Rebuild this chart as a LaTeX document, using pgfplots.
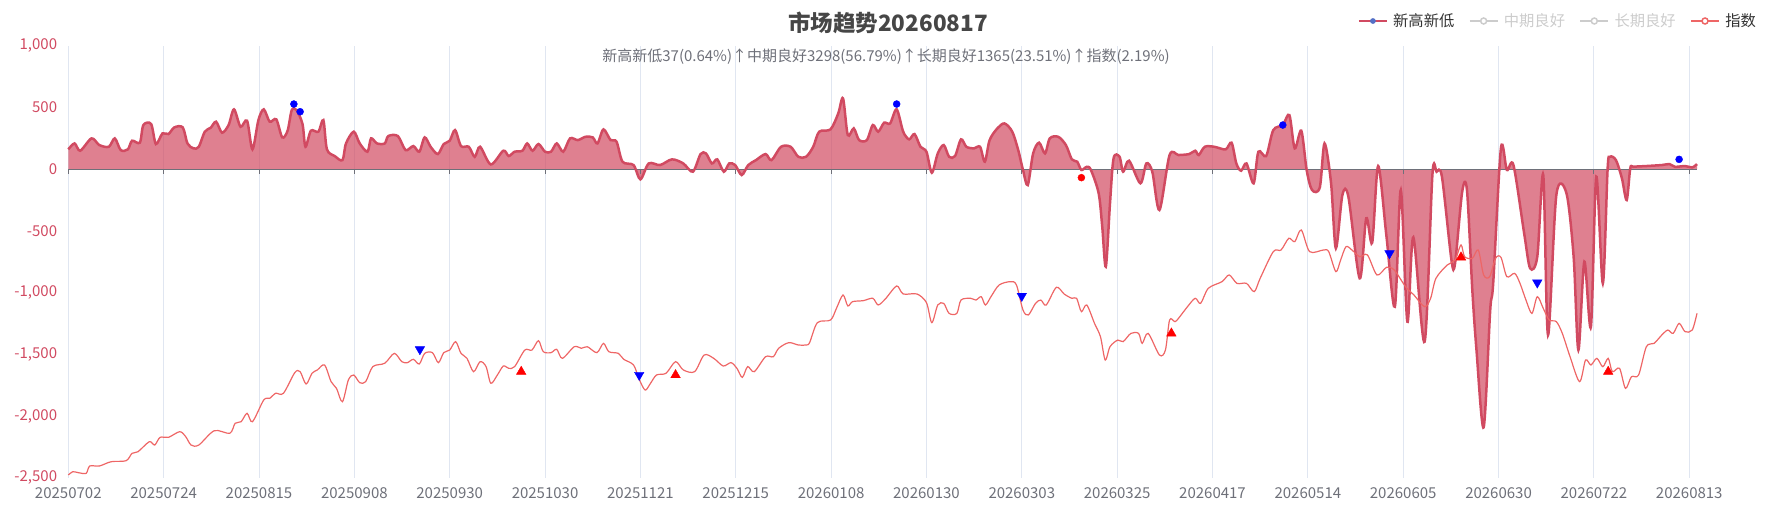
\documentclass[border=0pt]{standalone}
\usepackage{fontspec}
\setmainfont{Noto Sans CJK SC}
\usepackage{pgfplots}
\usepackage{pgfplotstable}
\pgfplotsset{compat=1.18}

\definecolor{lineRed}{RGB}{209,74,97}
\definecolor{idxRed}{RGB}{238,102,102}
\definecolor{gridc}{RGB}{224,230,241}
\definecolor{axisgray}{RGB}{110,112,121}
\definecolor{titlegray}{RGB}{70,70,70}
\definecolor{legendgray}{RGB}{204,204,204}
\definecolor{legendtext}{RGB}{51,51,51}
\definecolor{dotblue}{RGB}{84,112,198}

\pgfplotstableread{
i v
0 159
1.06 207
2 148
3.9 248
5.2 194
6.8 180
7.8 248
8.8 153
10 159
10.7 229
12 213
12.6 356
13.9 364
14.7 202
15.8 288
16.8 283
17.8 337
19.2 337
20 207
21 167
21.9 180
22.9 302
23.9 334
24.8 383
25.8 294
26.9 356
27.8 483
28.9 342
30 391
30.9 159
31.9 396
32.8 483
33.8 383
34.9 402
35.9 256
36.8 310
37.5 477
38.3 477
39.3 364
39.8 180
40.7 310
41.96 302
42.8 396
43.4 159
44.7 105
46 72
46.6 207
47.9 302
48.9 207
50.2 140
50.8 248
51.8 207
53.1 207
53.7 267
55.3 267
56.6 153
57.9 186
58.9 140
59.8 256
60.8 180
62 121
63 202
64 229
64.9 315
65.9 186
67.2 180
68.2 99
69.1 180
70.9 37
73 148
73.9 105
74.9 140
76.2 148
77 207
77.9 148
78.9 202
80 140
81 140
81.96 207
83.05 140
84.2 248
85.5 234
86.8 261
88 256
88.8 207
89.8 321
91 234
92 221
93 59
94.85 32
96 -84
97.4 45
99.3 32
101.3 78
103.2 45
104.8 -22
106.1 121
107 126
108 45
108.9 78
110 -22
110.9 45
111.9 32
113 -49
114.1 32
115.4 72
117 121
118 72
119.6 180
121.2 180
122.5 99
123.8 99
125 180
126 302
127.9 321
129.2 450
130 572
130.8 275
131.8 329
132.7 234
134 234
135 356
135.9 302
136.9 375
137.9 369
139 483
140.1 302
141.1 240
142 283
143 180
144 140
144.9 -30
145.9 126
146.9 194
147.8 99
148.8 105
149.8 240
150.7 180
152 167
153 180
153.8 59
154.6 234
155.9 329
157.1 369
158.4 302
159.4 153
160.2 -8
161 -130
161.9 126
162.9 213
163.9 126
164.7 248
166.1 261
167.4 194
168.4 78
169.3 59
170 -8
170.9 18
171.6 -8
172.9 -197
173.5 -467
174.1 -791
174.8 -278
175.4 86
176.4 99
177 -22
178 67
179.9 -116
180.9 45
181.9 -22
183.1 -332
184.8 113
186.3 113
188.1 121
189.1 148
189.7 113
190.7 180
192.3 180
194.2 159
195.2 213
196 45
196.8 -14
197.7 45
198.9 -116
199.7 140
201 105
202.2 315
203.8 356
204.9 437
205.8 167
206.9 310
207.8 -8
208.7 -170
210 -150
210.8 207
211.9 -116
212.7 -642
213.8 -210
214.8 -224
216.7 -885
217.8 -399
218.8 -596
219.8 24
221.2 -548
222.6 -1115
223.6 -170
224.7 -1236
225.7 -553
227.6 -1398
228.9 -48
229.6 -22
230.5 -62
232.1 -737
232.7 -764
233.9 -184
234.7 -170
235.6 -980
236.3 -1466
237.5 -2092
238.6 -1142
239.1 -926
240.4 167
241.4 -8
242.5 32
244.3 -521
245.3 -804
246.5 -710
247.5 -48
248.3 -1344
249.7 -210
251.4 -197
252.6 -710
253.4 -1466
254.4 -750
255.5 -1277
256.4 -62
257.5 -926
258.3 0
258.7 99
259.7 72
260.7 -75
261.5 -251
262.1 5
262.6 18
264.8 24
267.4 32
268.7 40
269.6 18
271.3 24
272.5 13
273.3 40
}\areadata

\pgfplotstableread{
i v
0 -2478
0.74 -2451
1.7 -2459
3 -2464
3.6 -2405
5.2 -2405
7.2 -2370
9.7 -2362
10.7 -2302
11.7 -2289
13.6 -2208
14.5 -2235
15.4 -2173
16.8 -2173
18.7 -2127
19.7 -2167
20.6 -2235
21.9 -2235
24.5 -2119
27.1 -2140
28 -2059
29 -2046
30 -1978
30.9 -2046
32.8 -1870
33.8 -1857
34.8 -1816
36.1 -1816
38 -1649
38.9 -1641
39.9 -1741
40.9 -1654
41.8 -1627
43 -1587
44.1 -1722
45 -1776
46 -1884
47 -1708
47.9 -1668
48.9 -1730
49.9 -1722
51.1 -1600
53.1 -1573
54.7 -1493
55.96 -1560
56.9 -1568
57.9 -1541
58.9 -1579
59.8 -1493
61.1 -1487
62.1 -1568
63 -1487
64 -1466
65 -1398
65.9 -1493
66.9 -1533
68 -1641
69.1 -1560
70.1 -1600
70.9 -1735
72 -1668
73 -1595
73.9 -1614
74.9 -1600
76.6 -1466
77.8 -1466
78.9 -1390
79.7 -1479
81 -1487
81.96 -1460
82.9 -1533
84.9 -1439
86.1 -1452
87.1 -1439
88.7 -1487
89.8 -1412
90.7 -1479
92.3 -1493
93.2 -1541
94.85 -1587
95.8 -1703
96.8 -1790
97.7 -1735
98.7 -1668
100.3 -1654
101.9 -1560
103.2 -1627
105.1 -1641
106.7 -1506
108.3 -1533
109.9 -1595
111.2 -1568
112.2 -1614
113.1 -1687
114 -1600
115.1 -1641
117 -1520
118.3 -1520
119.2 -1452
120.9 -1406
122.5 -1425
123.8 -1425
124.4 -1405
125.7 -1244
127.9 -1223
128.9 -1128
130 -1020
130.8 -1109
131.6 -1074
133.4 -1066
135 -1047
135.9 -1101
137.2 -1047
139 -947
140.1 -1012
142.4 -1012
144 -1082
144.9 -1244
145.9 -1101
146.9 -1088
147.8 -1169
149.1 -1169
149.8 -1061
151.4 -1047
152.3 -1061
153.2 -1034
153.9 -1101
154.9 -1028
156.2 -939
158.1 -912
159.1 -939
160.2 -1142
161.1 -1182
162.3 -1088
163.2 -1061
164.1 -1101
165.8 -958
167.1 -1012
168.4 -1047
169.2 -1047
170 -1155
170.9 -1101
172.2 -1250
173.2 -1358
174 -1547
174.8 -1439
176.1 -1385
177 -1398
178.3 -1331
179.6 -1331
180.2 -1412
181.2 -1331
183.1 -1506
184.1 -1466
184.8 -1223
185.7 -1236
186.3 -1209
187.8 -1115
189.1 -1047
190 -1088
191.3 -966
193.6 -912
194.8 -858
196.1 -926
197.7 -926
199 -993
200 -885
202.2 -669
203.5 -656
204.8 -561
205.8 -588
206.9 -494
208.3 -669
210.6 -656
211.5 -669
212.7 -831
213.5 -737
214.4 -629
215.4 -656
216.7 -710
218 -696
219.6 -858
221.2 -796
222.5 -818
224.4 -953
225.8 -1020
227.6 -1115
228.6 -1047
229.5 -885
231.4 -777
232.7 -737
233.7 -615
234.3 -710
235.6 -723
236.6 -656
237.5 -858
238.5 -872
239.5 -723
240.4 -715
241.4 -872
242.7 -845
243.6 -926
244.6 -1061
245.6 -1169
246.5 -1034
247.5 -1128
248.5 -1223
249.7 -1236
250.7 -1331
252 -1520
253.6 -1722
254.6 -1547
255.5 -1587
256.5 -1533
257.5 -1601
258.4 -1533
259.1 -1641
260.3 -1614
261.3 -1776
262.3 -1682
263.5 -1668
264.8 -1439
266.1 -1412
267.4 -1344
268.4 -1304
269.3 -1331
270.3 -1250
271.3 -1317
272.5 -1304
273.3 -1169
}\idxdata

\begin{document}
\begin{tikzpicture}[x=1pt,y=1pt]
\begin{axis}[
  at={(68.3pt,45.25pt)}, anchor=south west,
  scale only axis, width=1628.7pt, height=432.25pt,
  xmin=0, xmax=273.3, ymin=-2500, ymax=1000,
  axis line style={draw=none},
  major tick length=0pt,
  xtick={0,16,...,272},
  xticklabels={20250702,20250724,20250815,20250908,20250930,20251030,20251121,20251215,20260108,20260130,20260303,20260325,20260417,20260514,20260605,20260630,20260722,20260813},
  ytick={-2500,-2000,...,1000},
  yticklabels={{-2,500},{-2,000},{-1,500},{-1,000},{-500},{0},{500},{1,000}},
  xmajorgrids,
  major grid style={draw=gridc, line width=1pt},
  xticklabel style={font=\fontsize{15}{18}\selectfont, text=axisgray, anchor=center, inner sep=0pt, yshift=-15.5pt},
  yticklabel style={font=\fontsize{15}{18}\selectfont, text=lineRed, anchor=east, inner sep=0pt, xshift=-11pt},
  clip=false,
  legend columns=4,
  legend style={at={(axis description cs:1.0375,1.0567)}, anchor=east, draw=none, fill=none,
    font=\fontsize{15.3}{18}\selectfont, text=legendtext, inner sep=0pt,
    /tikz/every odd column/.append style={column sep=3pt},
    /tikz/every even column/.append style={column sep=12pt}},
]
\addlegendimage{legend image code/.code={\draw[lineRed, line width=2.5pt] (0pt,0pt) -- (28pt,0pt); \fill[dotblue] (14pt,0pt) circle (2.6pt);}}
\addlegendentry{新高新低}
\addlegendimage{legend image code/.code={\draw[legendgray, line width=2.5pt] (0pt,0pt) -- (28pt,0pt); \draw[legendgray, fill=white, line width=1.5pt] (14pt,0pt) circle (3pt);}}
\addlegendentry{\textcolor{legendgray}{中期良好}}
\addlegendimage{legend image code/.code={\draw[legendgray, line width=2.5pt] (0pt,0pt) -- (28pt,0pt); \draw[legendgray, fill=white, line width=1.5pt] (14pt,0pt) circle (3pt);}}
\addlegendentry{\textcolor{legendgray}{长期良好}}
\addlegendimage{legend image code/.code={\draw[idxRed, line width=2.5pt] (0pt,0pt) -- (28pt,0pt); \draw[idxRed, fill=white, line width=1.5pt] (14pt,0pt) circle (3pt);}}
\addlegendentry{指数}

\addplot[draw=none, fill=lineRed, fill opacity=0.7, smooth, forget plot] table[x=i,y=v]{\areadata} \closedcycle;
\draw[axisgray, line width=1pt] (axis cs:0,0) -- (axis cs:273.3,0);
\pgfplotsinvokeforeach{0,16,...,272}{\draw[axisgray, line width=1pt] (axis cs:#1,0) -- ++(0pt,-5pt);}
\addplot[lineRed, line width=2.5pt, smooth, forget plot] table[x=i,y=v]{\areadata};
\addplot[idxRed, line width=1.2pt, smooth, forget plot] table[x=i,y=v]{\idxdata};

\addplot[only marks, mark=*, mark size=3.5pt, color=blue, forget plot] coordinates {(37.85,526) (38.9,464) (139,526) (203.8,356) (270.3,78)};
\addplot[only marks, mark=*, mark size=3.5pt, color=red, forget plot] coordinates {(170,-70)};
\addplot[only marks, mark=triangle*, mark size=5.5pt, color=blue, mark options={rotate=180}, forget plot] coordinates {(59,-1460) (95.8,-1668) (160,-1028) (221.7,-683) (246.5,-920)};
\addplot[only marks, mark=triangle*, mark size=5.5pt, color=red, forget plot] coordinates {(76,-1641) (101.9,-1668) (185.1,-1331) (233.7,-715) (258.4,-1641)};
\end{axis}
\node[font=\fontsize{22.5}{26}\selectfont\bfseries, text=titlegray] at (888pt,500pt) {市场趋势20260817};
\node[font=\fontsize{15}{18}\selectfont, text=axisgray] at (886pt,466pt) {新高新低37(0.64\%)↑中期良好3298(56.79\%)↑长期良好1365(23.51\%)↑指数(2.19\%)};
\pgfresetboundingbox
\path[use as bounding box] (0pt,0pt) rectangle (1786pt,523pt);
\end{tikzpicture}
\end{document}
